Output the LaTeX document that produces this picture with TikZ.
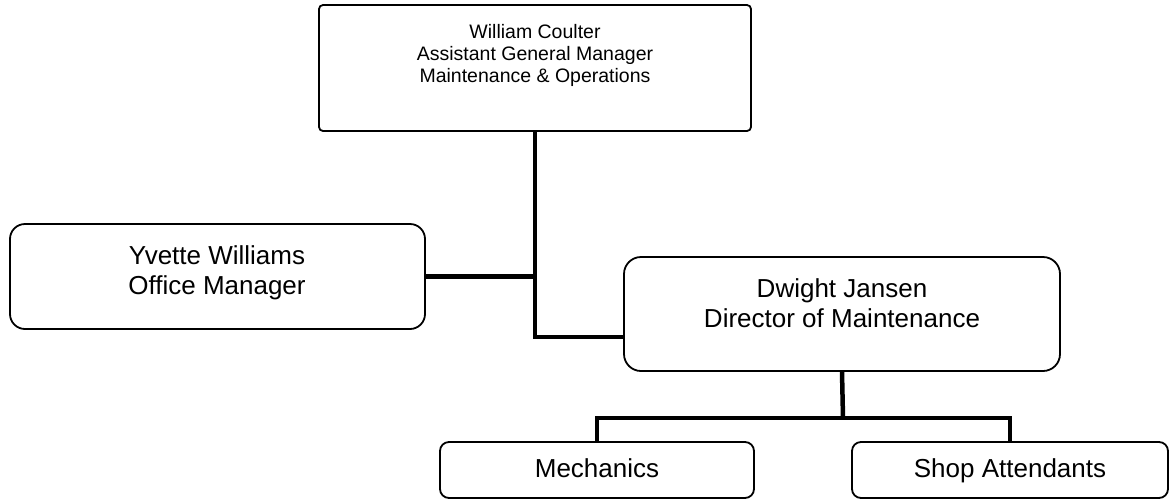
\documentclass[tikz,border=0pt]{standalone}
\usepackage{fontspec}
\setmainfont{Liberation Sans}
\begin{document}
\begin{tikzpicture}[x=1pt,y=-1pt,
  box/.style={draw,line width=1.8pt,inner sep=0pt},
  conn/.style={line width=4.5pt},
  lbl/.style={align=center,inner sep=0pt,font=\fontsize{19.5}{22}\selectfont},
  lblb/.style={align=center,inner sep=0pt,font=\fontsize{26}{30}\selectfont}]
\useasboundingbox (0,0) rectangle (1169,499);
% boxes
\node[box,rounded corners=4pt,minimum width=432pt,minimum height=126pt] (top) at (535,68) {};
\node[box,rounded corners=15pt,minimum width=415pt,minimum height=105pt] (yvette) at (217.5,276.5) {};
\node[box,rounded corners=17pt,minimum width=436pt,minimum height=114pt] (dwight) at (842,314) {};
\node[box,rounded corners=9pt,minimum width=314pt,minimum height=56pt] (mech) at (597,470) {};
\node[box,rounded corners=9pt,minimum width=316pt,minimum height=56pt] (shop) at (1010,470) {};
% texts
\node[lbl] (toptxt) at (535,55) {William Coulter\\Assistant General Manager\\Maintenance \& Operations};
\node[lblb] (yvtxt) at (217,273) {Yvette Williams\\Office Manager};
\node[lblb] (dwtxt) at (842,303.5) {Dwight Jansen\\Director of Maintenance};
\node[lblb,anchor=base] (mechtxt) at (597,477) {Mechanics};
\node[lblb,anchor=base] (shoptxt) at (1010,477) {Shop Attendants};
% connectors
\coordinate (dwin) at (624,337);
\coordinate (bus) at (843,418);
\draw[conn] (top.south) |- (dwin);
\draw[conn] (yvette.east) -- (yvette.east -| top.south);
\draw[conn] (dwight.south) -- (bus);
\draw[conn] (mech.north) |- (bus) -| (shop.north);
\end{tikzpicture}
\end{document}
